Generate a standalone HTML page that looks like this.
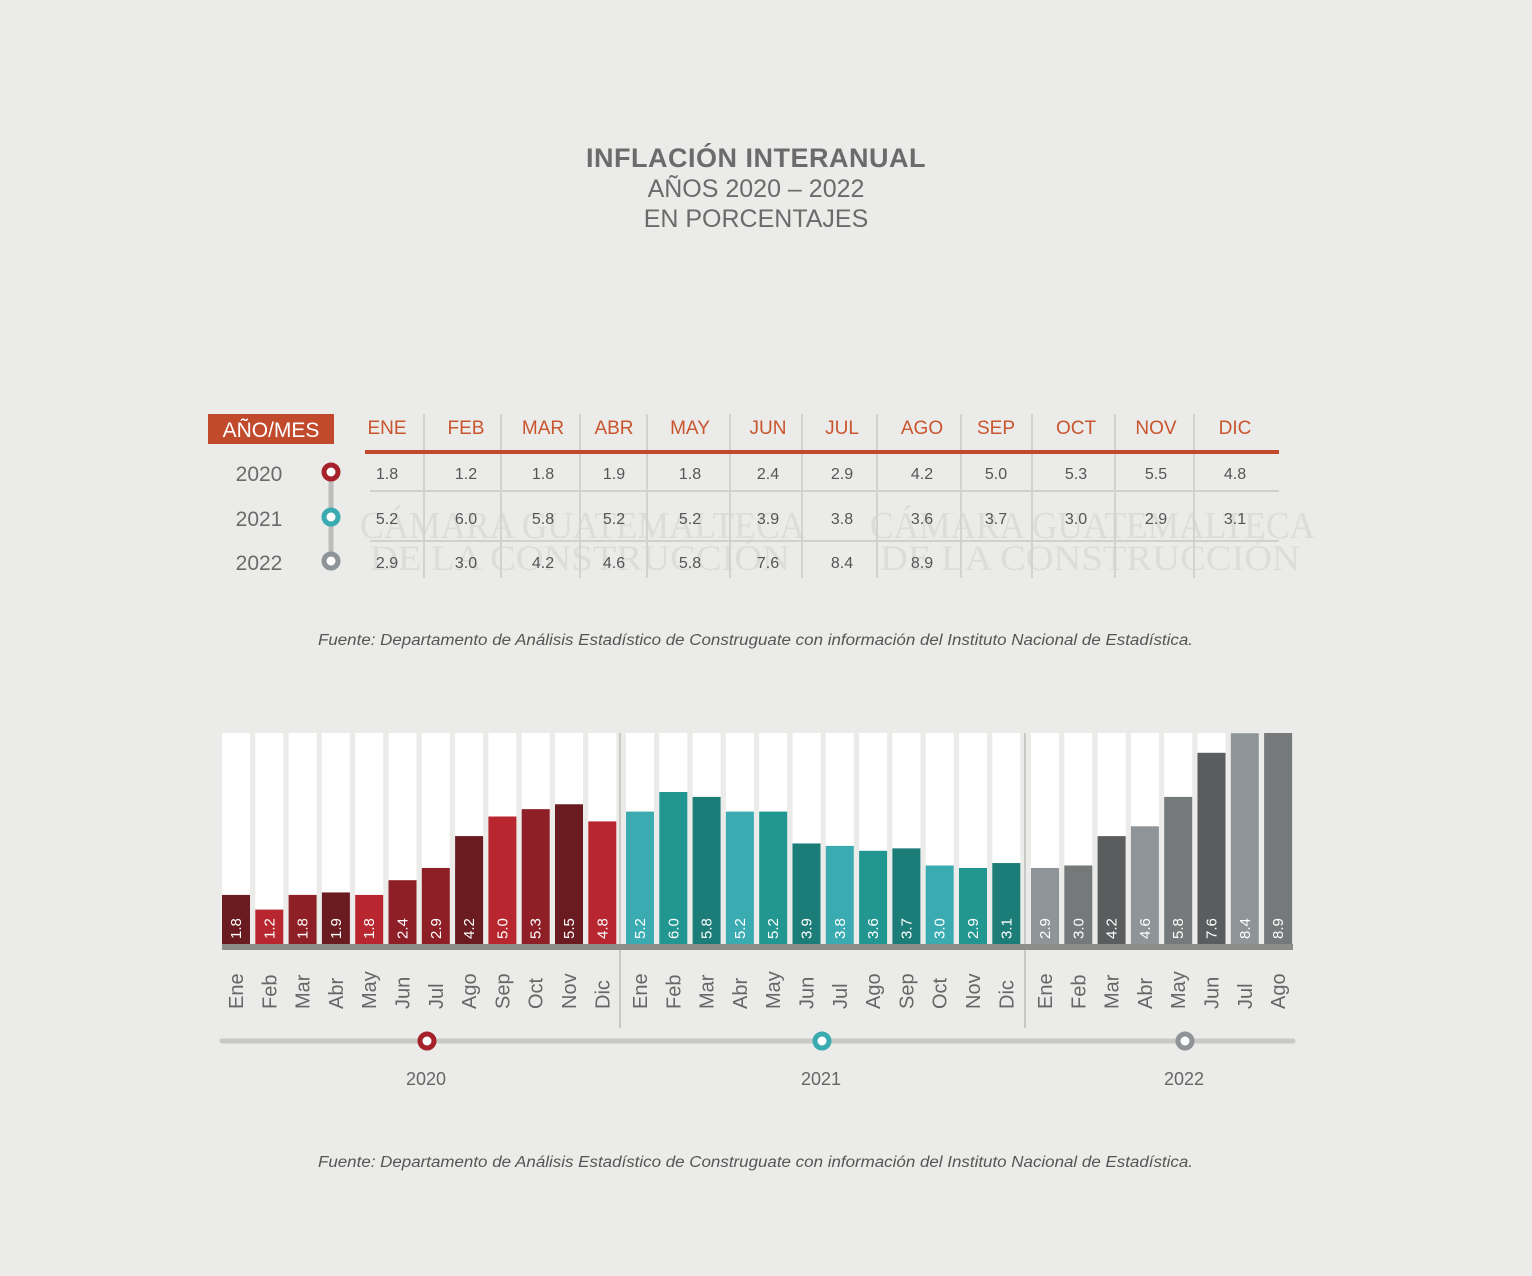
<!DOCTYPE html>
<html><head><meta charset="utf-8"><style>
body{margin:0;width:1532px;height:1276px;background:#ebebe9;font-family:"Liberation Sans",sans-serif;overflow:hidden;position:relative}
.t{position:absolute;white-space:nowrap}
</style></head><body>
<div class="t" style="left:0;width:1512px;text-align:center;top:143px;font-size:27px;font-weight:bold;color:#6b6b6b;letter-spacing:0.5px">INFLACIÓN INTERANUAL</div>
<div class="t" style="left:0;width:1512px;text-align:center;top:175px;font-size:25px;color:#6b6b6b">AÑOS 2020 – 2022</div>
<div class="t" style="left:0;width:1512px;text-align:center;top:205px;font-size:25px;color:#6b6b6b">EN PORCENTAJES</div>
<svg id="s" width="1532" height="1276" style="position:absolute;left:0;top:0"></svg>
<script>
const months=["ENE","FEB","MAR","ABR","MAY","JUN","JUL","AGO","SEP","OCT","NOV","DIC"];
const monthsShort=["Ene","Feb","Mar","Abr","May","Jun","Jul","Ago","Sep","Oct","Nov","Dic"];
const years=["2020","2021","2022"];
const v2020=[1.8,1.2,1.8,1.9,1.8,2.4,2.9,4.2,5.0,5.3,5.5,4.8];
const v2021=[5.2,6.0,5.8,5.2,5.2,3.9,3.8,3.6,3.7,3.0,2.9,3.1];
const v2022=[2.9,3.0,4.2,4.6,5.8,7.6,8.4,8.9];
const series=[v2020,v2021,v2022];
const svgEl=document.getElementById('s');const NS="http://www.w3.org/2000/svg";
function el(t,a,txt){const e=document.createElementNS(NS,t);for(const k in a)e.setAttribute(k,a[k]);if(txt!==undefined)e.textContent=txt;svgEl.appendChild(e);return e;}
[[360,538],[870,538]].forEach(p=>{
 const w=el('text',{x:p[0],y:p[1],'font-family':'Liberation Serif,serif','font-size':38,fill:'#dcdcda',textLength:445,lengthAdjust:'spacingAndGlyphs'},'CÁMARA GUATEMALTECA');
 
 const w2=el('text',{x:p[0]+10,y:p[1]+32,'font-family':'Liberation Serif,serif','font-size':36,fill:'#dcdcda',textLength:420,lengthAdjust:'spacingAndGlyphs'},'DE LA CONSTRUCCIÓN');
 
});
const colX=[387,466,543,614,690,768,842,922,996,1076,1156,1235];
const seps=[424,501,580,647,730,802,877,961,1032,1115,1194];
const rowY=[473,518,562];
const dotCol=['#a5222b','#3aacb1','#8e9498'];
let r=el('rect',{x:208,y:414,width:126,height:30,fill:'#c24a2c'});
let h=el('text',{x:271,y:437,'text-anchor':'middle','font-size':21,fill:'#fff'},'AÑO/MES');
seps.forEach(x=>{const l=el('line',{x1:x,x2:x,y1:414,y2:578,stroke:'#d2d2d0','stroke-width':2});});
[491,541].forEach(y=>{const l=el('line',{x1:370,x2:1279,y1:y,y2:y,stroke:'#d0d0ce','stroke-width':2});});
let ol=el('line',{x1:365,x2:1279,y1:452,y2:452,stroke:'#c24a2c','stroke-width':4});
months.forEach((m,i)=>{const t=el('text',{x:colX[i],y:434,'text-anchor':'middle','font-size':19,fill:'#c9552f'},m);});
let vl=el('line',{x1:331,x2:331,y1:471,y2:562,stroke:'#bdbdbb','stroke-width':5});
years.forEach((y,j)=>{
 const t=el('text',{x:259,y:rowY[j]+8,'text-anchor':'middle','font-size':21,fill:'#6b6b6b'},y);
 const c=el('circle',{cx:331,cy:rowY[j]-1,r:7,fill:'#fff',stroke:dotCol[j],'stroke-width':5});
 series[j].forEach((v,i)=>{const t=el('text',{x:colX[i],y:rowY[j]+6,'text-anchor':'middle','font-size':16,fill:'#555'},v.toFixed(1));});
});
const src='Fuente: Departamento de Análisis Estadístico de Construguate con información del Instituto Nacional de Estadística.';
[645,1167].forEach(y=>{const t=el('text',{x:318,y:y,'font-size':15.5,'font-style':'italic',fill:'#555',textLength:875,lengthAdjust:'spacingAndGlyphs'},src);});
const base=944,yTop=733,slot=33.3,bw=28;const yearStart=[222,626,1031];
function yScale(v){return Math.max(yTop,base-(5+v*24.5));}
const palettes=[['#6a1b20','#b8272f','#8e1f27'],['#3aacb1','#229690','#1b7c78'],['#8e9498','#75797a','#5a5c5e']];
const shade2020=[0,1,2,0,1,2,2,0,1,2,0,1];
[620,1025].forEach(x=>{const l=el('line',{x1:x,x2:x,y1:733,y2:1028,stroke:'#c8c8c6','stroke-width':2});});
series.forEach((vals,j)=>{vals.forEach((v,i)=>{
 const x=yearStart[j]+i*slot;
 const bg=el('rect',{x:x,y:yTop,width:bw,height:base-yTop,fill:'#fff'});
 const y=yScale(v);
 const ci=j===0?shade2020[i]:i%3;
 const b=el('rect',{x:x,y:y,width:bw,height:base-y,fill:palettes[j][ci]});
 const t=el('text',{x:0,y:0,'font-size':15,fill:'#fff',transform:`translate(${x+bw/2+5},${base-5}) rotate(-90)`},v.toFixed(1));
 const m=el('text',{x:0,y:0,'font-size':20,fill:'#666',transform:`translate(${x+bw/2+7},${1009}) rotate(-90)`},monthsShort[i]);
});});
let bl=el('rect',{x:222,y:944,width:1071,height:6,fill:'#8d8d8b'});
let tl=el('line',{x1:222,x2:1293,y1:1041,y2:1041,stroke:'#c8c8c4','stroke-width':5,'stroke-linecap':'round'});
const tlX=[427,822,1185];
years.forEach((y,j)=>{
 const c=el('circle',{cx:tlX[j],cy:1041,r:7,fill:'#fff',stroke:dotCol[j],'stroke-width':5});
 const t=el('text',{x:tlX[j]-1,y:1085,'text-anchor':'middle','font-size':18,fill:'#666'},y);
});
</script>
</body></html>
